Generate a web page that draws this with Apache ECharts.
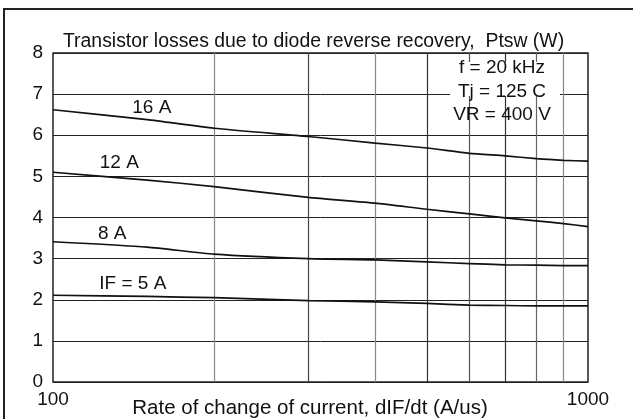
<!DOCTYPE html>
<html><head><meta charset="utf-8">
<script src="https://cdn.jsdelivr.net/npm/echarts@6/dist/echarts.min.js"></script>
<style>html,body{margin:0;padding:0;background:#fff}#c{width:633px;height:419px}</style>
</head><body><div id="c"></div>
<script>
// Data
const xValues = [100, 150, 200, 300, 400, 500, 600, 700, 800, 900, 1000];
const if16 = [6.62, 6.38, 6.17, 5.97, 5.81, 5.69, 5.56, 5.50, 5.43, 5.39, 5.37];
const if12 = [5.10, 4.91, 4.75, 4.49, 4.35, 4.20, 4.09, 3.99, 3.92, 3.85, 3.78];
const if8  = [3.41, 3.28, 3.11, 3.00, 2.97, 2.92, 2.88, 2.85, 2.84, 2.83, 2.83];
const if5  = [2.11, 2.08, 2.05, 1.98, 1.95, 1.91, 1.87, 1.86, 1.85, 1.85, 1.85];
const gridX = [200, 300, 400, 500, 600, 700, 800, 900];
const curveLabels = ['16 A', '12 A', '8 A', 'IF = 5 A'];
const curveLabelX = [153, 133, 129, 141];
const curveLabelY = [6.67, 5.33, 3.6, 2.38];
const xTickLabels = {100:'100', 1000:'1000'};
const titleText = 'Transistor losses due to diode reverse recovery,  Ptsw (W)';
const xName = 'Rate of change of current, dIF/dt (A/us)';
const conditions = ['f = 20 kHz', 'Tj = 125 C', 'VR = 400 V'];

const FONT = 'Liberation Sans, Arial, Helvetica, sans-serif';
const FS = 19;
const gridColors = {200:'#888',300:'#444',400:'#888',500:'#333',600:'#555',700:'#333',800:'#666',900:'#888'};

const chart = echarts.init(document.getElementById('c'), null, {renderer:'canvas'});
function line(vals){
  return {type:'line', data: xValues.map((x,i)=>[x, vals[i]]), smooth:0.2, symbol:'none',
    lineStyle:{color:'#111', width:1.7}, z:5, silent:true};
}
chart.setOption({
  animation:false,
  backgroundColor:'#fff',
  title:{text:titleText, left:58, top:27, textStyle:{fontFamily:FONT, fontSize:19.4, fontWeight:'normal', color:'#111'}},
  grid:{left:53, right:45, top:53, bottom:37, show:true, borderColor:'#222', borderWidth:1.5, backgroundColor:'transparent'},
  xAxis:{type:'log', logBase:10, min:100, max:1000,
    axisLine:{show:false}, axisTick:{show:false}, splitLine:{show:false},
    axisLabel:{fontFamily:FONT, fontSize:FS, color:'#111', margin:8, formatter:v=>xTickLabels[Math.round(v)]||''}},
  yAxis:{type:'value', min:0, max:8, interval:1,
    axisLine:{show:false}, axisTick:{show:false},
    splitLine:{show:true, lineStyle:{color:'#222', width:1}},
    axisLabel:{fontFamily:FONT, fontSize:FS, color:'#111', margin:10}},
  series:[
    {type:'line', data:[], symbol:'none', silent:true,
      markLine:{silent:true, symbol:'none', label:{show:false}, animation:false,
        data: gridX.map(v=>({xAxis:v, lineStyle:{color:gridColors[v], width:1.2, type:'solid'}}))}},
    line(if16), line(if12), line(if8), line(if5),
    {type:'scatter', symbolSize:0, silent:true, z:6,
      data: curveLabels.map((t,i)=>({value:[curveLabelX[i], curveLabelY[i]], name:t})),
      label:{show:true, position:'inside', formatter:p=>p.name, fontFamily:FONT, fontSize:FS, color:'#111', textBorderWidth:0, opacity:1}}
  ],
  graphic:[
    {type:'rect', shape:{x:4, y:9, width:800, height:600}, style:{fill:'none', stroke:'#222', lineWidth:2}, z:100},
    {type:'rect', shape:{x:450, y:62, width:110, height:34}, style:{fill:'#fff'}, z:50},
    {type:'text', x:502, y:68, style:{text:conditions[0], font:FS+'px '+FONT, fill:'#111', align:'center', verticalAlign:'middle'}, z:60},
    {type:'text', x:502, y:92, style:{text:conditions[1], font:FS+'px '+FONT, fill:'#111', align:'center', verticalAlign:'middle'}, z:60},
    {type:'text', x:502, y:115, style:{text:conditions[2], font:FS+'px '+FONT, fill:'#111', align:'center', verticalAlign:'middle'}, z:60},
    {type:'text', x:310, y:408, style:{text:xName, font:'20.5px '+FONT, fill:'#111', align:'center', verticalAlign:'middle'}, z:60}
  ]
});
</script></body></html>
